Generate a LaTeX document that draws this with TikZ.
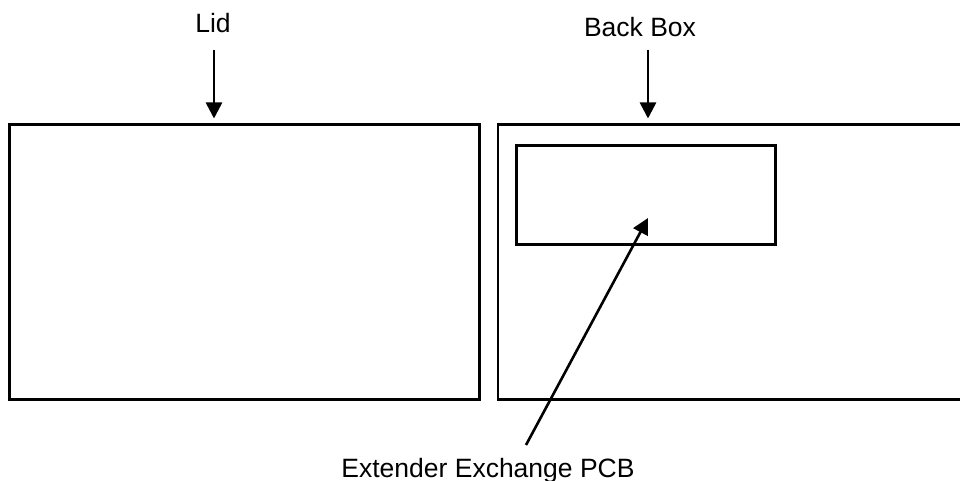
\documentclass[tikz,border=0pt]{standalone}
\usepackage{fontspec}
\setmainfont{Liberation Sans}
\usetikzlibrary{arrows.meta}
\tikzset{
  x=1pt,y=-1pt,
  panel/.style={draw=black,line width=2.9pt,fill=none,line join=miter},
  pcbbox/.style={draw=black,line width=2.9pt,fill=none},
  pointer/.style={draw=black,line width=2.6pt,-{Triangle[length=16pt,width=16pt]}},
  caption/.style={font=\fontsize{26.5pt}{30pt}\selectfont,text=black,inner sep=0pt,anchor=base}
}
\begin{document}
\begin{tikzpicture}
\useasboundingbox (0,0) rectangle (960,481);
\fill[white] (0,0) rectangle (960,481);
\begin{scope}
\clip (0,0) rectangle (960,481);
\draw[panel] (9.8,124.5) rectangle (479.5,399.2);
\draw[panel] (498,124.5) rectangle (975,399.2);
\end{scope}
\draw[pcbbox] (516.2,145.3) rectangle (775.2,244.6);
\node[caption] (lid) at (213,33) {Lid};
\node[caption] (back) at (640,37) {Back Box};
\node[caption] (pcb) at (488,477) {Extender Exchange PCB};
\coordinate (lidtop) at (214,118.5);
\coordinate (backtop) at (648,118.5);
\coordinate (pcbin) at (648,218);
\coordinate (lidtail) at (214,50);
\coordinate (backtail) at (648,50);
\coordinate (pcbtail) at (526,445);
\draw[pointer] (lidtail) -- (lidtop);
\draw[pointer] (backtail) -- (backtop);
\draw[pointer] (pcbtail) -- (pcbin);
\end{tikzpicture}
\end{document}
